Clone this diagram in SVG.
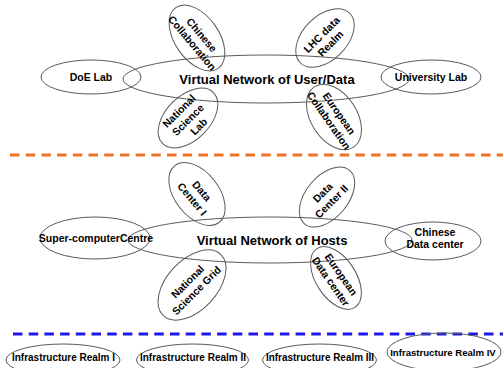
<svg xmlns="http://www.w3.org/2000/svg" width="503" height="368" viewBox="0 0 503 368">
<style>
.e{fill:none;stroke:#5a5a5a;stroke-width:1}
.t{font-family:"Liberation Sans",Arial,sans-serif;font-weight:bold;fill:#000;text-anchor:middle}
.big{font-size:13px}
.lb{font-size:10.5px}
.sep{fill:none;stroke-width:3;stroke-dasharray:9.5 6.2}
</style>
<rect width="503" height="368" fill="#fff"/>

<g id="separators">
<line class="sep" x1="10" y1="155" x2="503" y2="155" stroke="#F27124"/>
<line class="sep" x1="13" y1="334" x2="503" y2="334" stroke="#1A1AE6"/>
</g>

<!-- Top layer -->
<g id="vn-userdata">
<ellipse class="e" cx="266" cy="79" rx="143" ry="24"/>
<text class="t big" x="267" y="84">Virtual Network of User/Data</text>
</g>
<g id="doe-lab">
<ellipse class="e" cx="91" cy="77" rx="50" ry="17"/>
<text class="t lb" x="91" y="81">DoE Lab</text>
</g>
<g id="university-lab">
<ellipse class="e" cx="431" cy="77" rx="50" ry="17"/>
<text class="t lb" x="431" y="81">University Lab</text>
</g>
<g id="chinese-collaboration">
<ellipse class="e" cx="197" cy="38" rx="37" ry="22" transform="rotate(55 197 38)"/>
<text class="t lb" transform="translate(197 39) rotate(50)"><tspan x="0" y="-2.5">Chinese</tspan><tspan x="0" y="10">Collaboration</tspan></text>
</g>
<g id="national-science-lab">
<ellipse class="e" cx="188" cy="118" rx="36" ry="22" transform="rotate(-45 188 118)"/>
<text class="t lb" transform="translate(188 120) rotate(-45)"><tspan x="0" y="-9">National</tspan><tspan x="0" y="3.5">Science</tspan><tspan x="3" y="16">Lab</tspan></text>
</g>
<g id="lhc-data-realm">
<ellipse class="e" cx="325" cy="38" rx="35" ry="22" transform="rotate(-45 325 38)"/>
<text class="t lb" transform="translate(326 39) rotate(-45)"><tspan x="0" y="-2.5">LHC data</tspan><tspan x="0" y="10">Realm</tspan></text>
</g>
<g id="european-collaboration">
<ellipse class="e" cx="334" cy="117" rx="36" ry="23" transform="rotate(57 334 117)"/>
<text class="t lb" transform="translate(334 117) rotate(55)"><tspan x="0" y="-2.5">European</tspan><tspan x="0" y="10">Collaboration</tspan></text>
</g>

<!-- Middle layer -->
<g id="vn-hosts">
<ellipse class="e" cx="270" cy="240" rx="142" ry="23"/>
<text class="t big" x="272" y="245">Virtual Network of Hosts</text>
</g>
<g id="supercomputer-centre">
<ellipse class="e" cx="95" cy="238" rx="55" ry="21"/>
<text class="t lb" x="96" y="242">Super-computerCentre</text>
</g>
<g id="chinese-data-center">
<ellipse class="e" cx="433" cy="241" rx="48" ry="19"/>
<text class="t lb"><tspan x="435" y="236">Chinese</tspan><tspan x="435" y="248">Data center</tspan></text>
</g>
<g id="data-center-1">
<ellipse class="e" cx="197" cy="194" rx="36" ry="22" transform="rotate(52 197 194)"/>
<text class="t lb" transform="translate(197 195) rotate(50)"><tspan x="0" y="-2.5">Data</tspan><tspan x="0" y="10">Center I</tspan></text>
</g>
<g id="data-center-2">
<ellipse class="e" cx="327" cy="197" rx="35" ry="21" transform="rotate(-50 327 197)"/>
<text class="t lb" transform="translate(327 197) rotate(-45)"><tspan x="0" y="-2.5">Data</tspan><tspan x="0" y="10">Center II</tspan></text>
</g>
<g id="national-science-grid">
<ellipse class="e" cx="192" cy="285" rx="42" ry="25" transform="rotate(-47 192 285)"/>
<text class="t lb" transform="translate(192 286) rotate(-45)"><tspan x="0" y="-2.5">National</tspan><tspan x="0" y="10">Science Grid</tspan></text>
</g>
<g id="european-data-center">
<ellipse class="e" cx="336" cy="278" rx="35" ry="20" transform="rotate(57 336 278)"/>
<text class="t lb" transform="translate(336 278) rotate(55)"><tspan x="0" y="-2.5">European</tspan><tspan x="0" y="10">Data center</tspan></text>
</g>

<!-- Bottom layer -->
<g id="infra-1">
<ellipse class="e" cx="63" cy="360" rx="57" ry="16"/>
<text class="t" font-size="11" x="63.5" y="361" textLength="103" lengthAdjust="spacingAndGlyphs">Infrastructure Realm I</text>
</g>
<g id="infra-2">
<ellipse class="e" cx="192.5" cy="360" rx="56" ry="16"/>
<text class="t" font-size="11" x="193" y="361" textLength="106" lengthAdjust="spacingAndGlyphs">Infrastructure Realm II</text>
</g>
<g id="infra-3">
<ellipse class="e" cx="319.5" cy="360" rx="57" ry="16"/>
<text class="t" font-size="11" x="320" y="361" textLength="108" lengthAdjust="spacingAndGlyphs">Infrastructure Realm III</text>
</g>
<g id="infra-4">
<ellipse class="e" cx="444" cy="352" rx="57" ry="19"/>
<text class="t" font-size="9.6" x="443" y="356">Infrastructure Realm IV</text>
</g>
</svg>
